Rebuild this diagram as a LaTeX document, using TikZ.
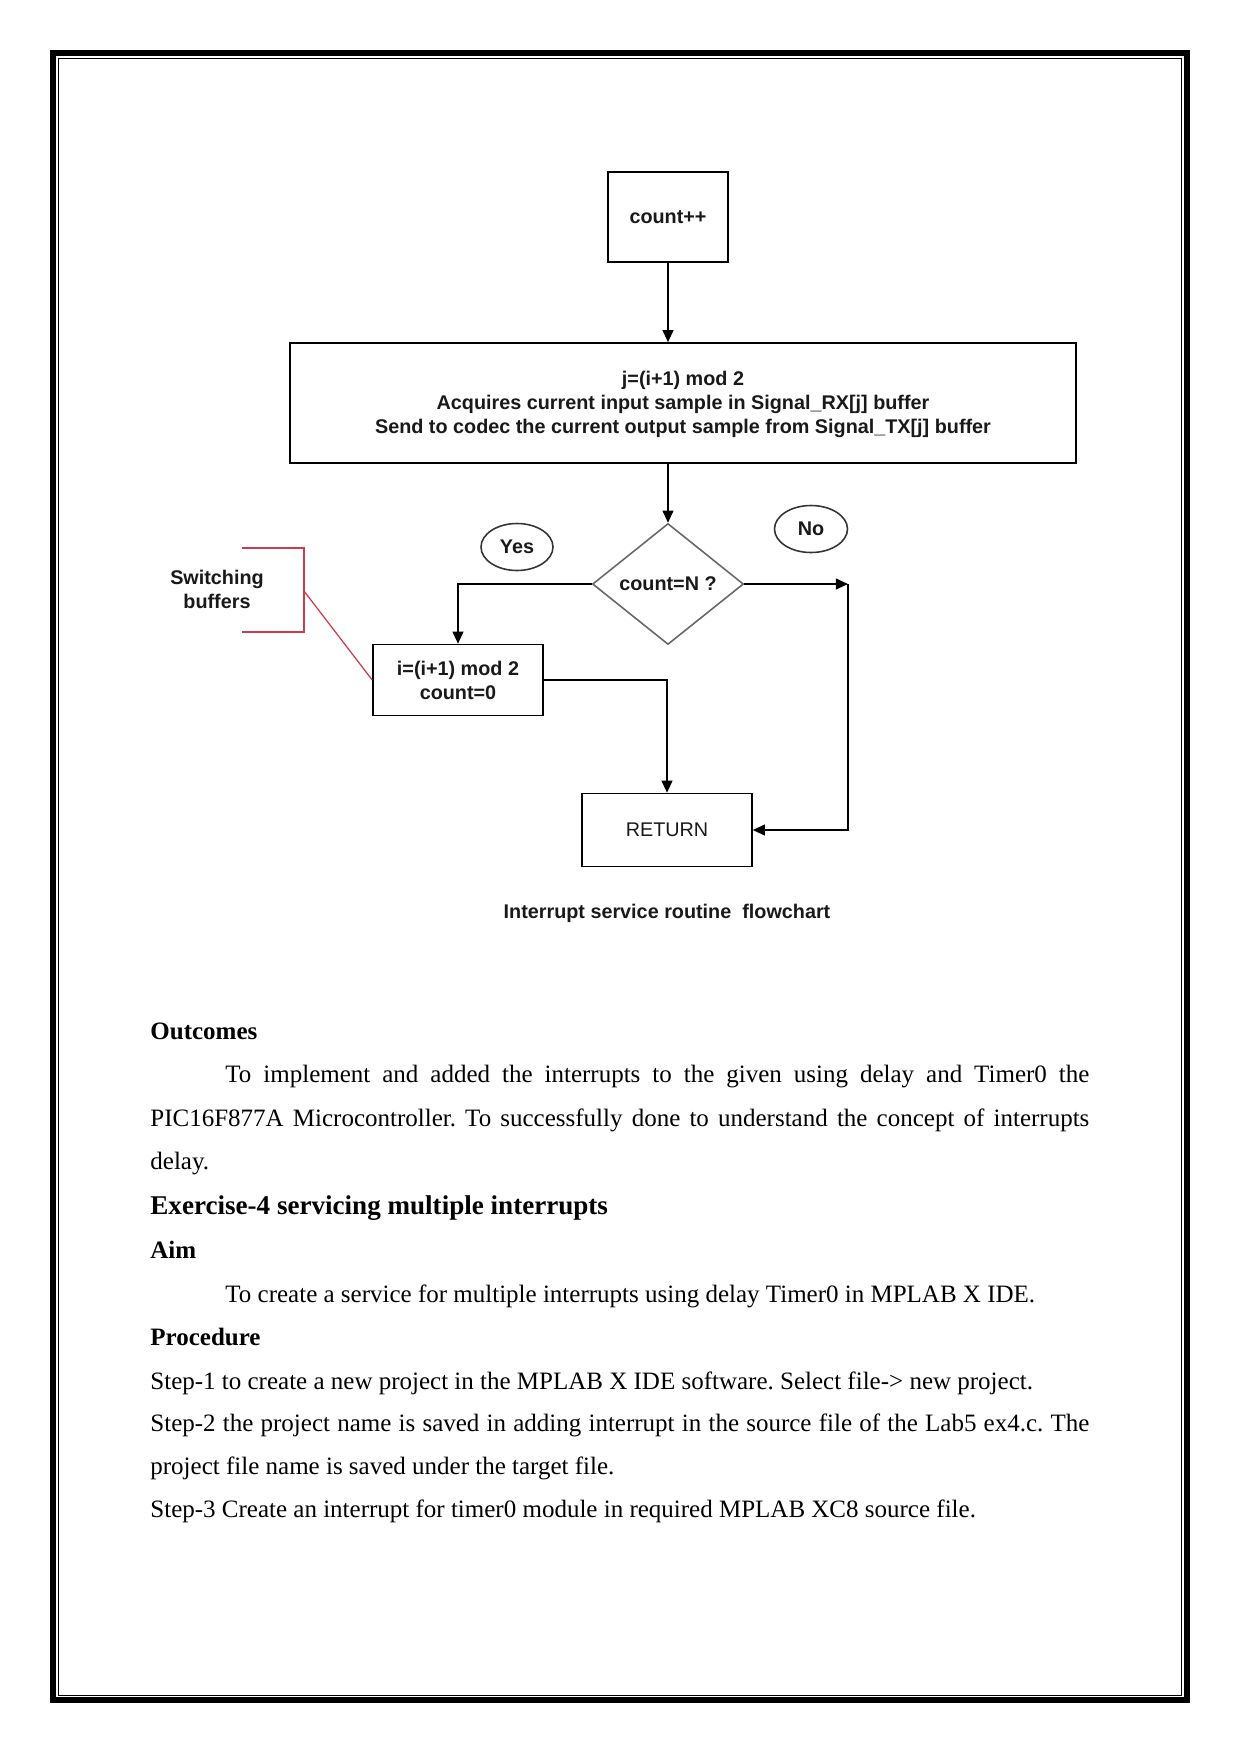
\documentclass[tikz,border=0pt]{standalone}
\usepackage{fontspec}
\setmainfont{Liberation Serif}
\newfontfamily\arialf{Liberation Sans}
\usetikzlibrary{shapes.geometric,arrows.meta}
\definecolor{redline}{RGB}{205,60,75}
\definecolor{txt}{RGB}{25,25,25}
\frenchspacing
\begin{document}
\begin{tikzpicture}[x=0.48pt,y=-0.48pt,
  fc/.style={font=\arialf\bfseries\fontsize{9.5}{11.5}\selectfont, text=txt},
  fcr/.style={font=\arialf\fontsize{9.5}{11.5}\selectfont, text=txt},
  boxn/.style={fc, draw=black, line width=0.75pt, rectangle, inner sep=0pt, align=center},
  dia/.style={fc, draw=black!60, line width=0.75pt, diamond, inner sep=0pt},
  lab/.style={fc, draw=black!80, line width=0.75pt, ellipse, inner sep=0pt},
  flow/.style={draw=black, line width=0.75pt, -{Triangle[length=5.8pt,width=5.2pt]}},
  body/.style={font=\fontsize{12}{14}\selectfont, anchor=base west, inner sep=0pt},
  bodyb/.style={font=\bfseries\fontsize{12}{14}\selectfont, anchor=base west, inner sep=0pt},
]
\useasboundingbox (0,0) rectangle (1241,1754);
% page border
\draw[line width=2.88pt] (53,53) rectangle (1187,1700.3);
\draw[line width=0.62pt] (58.3,58.3) rectangle (1181.5,1695.2);

% flowchart
\node[boxn, minimum width={120*0.48pt}, minimum height={90*0.48pt}] (cnt) at (668,217) {count++};
\node[boxn, minimum width={786*0.48pt}, minimum height={120*0.48pt}, text depth=1pt] (acq) at (683,403)
  {j=(i+1) mod 2\\Acquires current input sample in Signal\_RX[j] buffer\\Send to codec the current output sample from Signal\_TX[j] buffer};
\node[dia, minimum width={151*0.48pt}, minimum height={121*0.48pt}] (dec) at (668,584) {count=N ?};
\node[lab, minimum width={72*0.48pt}, minimum height={47*0.48pt}] (yes) at (517,547) {Yes};
\node[lab, minimum width={73*0.48pt}, minimum height={47*0.48pt}] (no) at (811,529) {No};
\node[boxn, minimum width={170*0.48pt}, minimum height={71*0.48pt}] (ib) at (458,680) {i=(i+1) mod 2\\count=0};
\node[boxn, fcr, minimum width={170*0.48pt}, minimum height={73*0.48pt}] (ret) at (667,830) {RETURN};
\coordinate (nocorner) at (848,584);

\draw[flow] (cnt.south) -- (cnt.south |- acq.north);
\draw[flow] (acq.south -| dec.north) -- (dec.north);
\draw[flow] (dec.west) -| (ib.north);
\draw[flow] (dec.east) -- (nocorner);
\draw[flow] (nocorner) |- (ret.east);
\draw[flow] (ib.east) -| (ret.north);

% switching buffers annotation
\node[fc, align=center, inner sep=0pt] (sw) at (217,589) {Switching\\buffers};
\draw[redline, line width=0.7pt] (242,548) -- (304,548) -- (304,632) -- (242,632);
\coordinate (brk) at (304,591);
\draw[redline, line width=0.6pt] (brk) -- (ib.west);

\node[fc] (cap) at (667,913) {Interrupt service routine\ \ flowchart};

% body text
\node[bodyb] (t1) at (150,1039) {Outcomes};
\node[body] (t2) at (225,1082) {\makebox[414.7pt][s]{To implement and added the interrupts to the given using delay and Timer0 the}};
\node[body] (t3) at (150,1126) {\makebox[450.7pt][s]{PIC16F877A Microcontroller. To successfully done to understand the concept of interrupts}};
\node[body] (t4) at (150,1169) {delay.};
\node[anchor=base west, inner sep=0pt, font=\bfseries\fontsize{13}{15}\selectfont] (t5) at (150,1214) {Exercise-4 servicing multiple interrupts};
\node[bodyb] (t6) at (150,1258) {Aim};
\node[body] (t7) at (225,1302) {To create a service for multiple interrupts using delay Timer0 in MPLAB X IDE.};
\node[bodyb] (t8) at (150,1345) {Procedure};
\node[body] (t9) at (150,1389) {Step-1 to create a new project in the MPLAB X IDE software. Select file-> new project.};
\node[body] (t10) at (150,1431) {\makebox[450.7pt][s]{Step-2 the project name is saved in adding interrupt in the source file of the Lab5 ex4.c. The}};
\node[body] (t11) at (150,1474) {project file name is saved under the target file.};
\node[body] (t12) at (150,1517) {Step-3 Create an interrupt for timer0 module in required MPLAB XC8 source file.};
\end{tikzpicture}
\end{document}
